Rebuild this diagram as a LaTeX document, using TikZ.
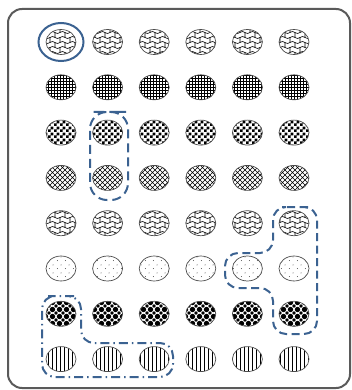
\documentclass[tikz,border=0pt]{standalone}
\usepackage{tikz}
\usetikzlibrary{shapes.geometric, patterns, calc}
\definecolor{hlblue}{RGB}{59, 98, 145}
\definecolor{framegray}{RGB}{90, 90, 90}

% fill patterns of the tiles
\pgfdeclarepatternformonly{wavebricks}{\pgfqpoint{-1pt}{-1pt}}{\pgfqpoint{11pt}{11pt}}{\pgfqpoint{10pt}{10pt}}{
  \pgfsetlinewidth{0.6pt}
  \pgfpathmoveto{\pgfqpoint{0pt}{2.5pt}}
  \pgfpathcurveto{\pgfqpoint{3.3pt}{6pt}}{\pgfqpoint{6.7pt}{-1pt}}{\pgfqpoint{10pt}{2.5pt}}
  \pgfpathmoveto{\pgfqpoint{0pt}{7.5pt}}
  \pgfpathcurveto{\pgfqpoint{3.3pt}{11pt}}{\pgfqpoint{6.7pt}{4pt}}{\pgfqpoint{10pt}{7.5pt}}
  \pgfpathmoveto{\pgfqpoint{5pt}{2.5pt}}\pgfpathlineto{\pgfqpoint{5pt}{7.5pt}}
  \pgfpathmoveto{\pgfqpoint{0pt}{7.5pt}}\pgfpathlineto{\pgfqpoint{0pt}{10pt}}
  \pgfpathmoveto{\pgfqpoint{0pt}{0pt}}\pgfpathlineto{\pgfqpoint{0pt}{2.5pt}}
  \pgfusepath{stroke}}
\pgfdeclarepatternformonly{finegrid}{\pgfqpoint{-1pt}{-1pt}}{\pgfqpoint{3pt}{3pt}}{\pgfqpoint{3pt}{3pt}}{
  \pgfsetlinewidth{0.7pt}
  \pgfpathmoveto{\pgfqpoint{0pt}{0pt}}\pgfpathlineto{\pgfqpoint{0pt}{3.1pt}}
  \pgfpathmoveto{\pgfqpoint{0pt}{0pt}}\pgfpathlineto{\pgfqpoint{3.1pt}{0pt}}
  \pgfusepath{stroke}}
\pgfdeclarepatternformonly{bigchecker}{\pgfqpoint{0pt}{0pt}}{\pgfqpoint{6pt}{6pt}}{\pgfqpoint{6pt}{6pt}}{
  \pgfpathrectangle{\pgfqpoint{0pt}{0pt}}{\pgfqpoint{3pt}{3pt}}
  \pgfpathrectangle{\pgfqpoint{3pt}{3pt}}{\pgfqpoint{3pt}{3pt}}
  \pgfusepath{fill}}
\pgfdeclarepatternformonly{widehatch}{\pgfqpoint{-1pt}{-1pt}}{\pgfqpoint{6pt}{6pt}}{\pgfqpoint{5pt}{5pt}}{
  \pgfsetlinewidth{0.5pt}
  \pgfpathmoveto{\pgfqpoint{0pt}{0pt}}\pgfpathlineto{\pgfqpoint{5.1pt}{5.1pt}}
  \pgfpathmoveto{\pgfqpoint{0pt}{5pt}}\pgfpathlineto{\pgfqpoint{5.1pt}{-0.1pt}}
  \pgfusepath{stroke}}
\pgfdeclarepatternformonly{sparsedots}{\pgfqpoint{0pt}{0pt}}{\pgfqpoint{8pt}{8pt}}{\pgfqpoint{8pt}{8pt}}{
  \pgfpathcircle{\pgfqpoint{1.5pt}{1.5pt}}{0.5pt}
  \pgfpathcircle{\pgfqpoint{5.5pt}{5.5pt}}{0.5pt}
  \pgfusepath{fill}}
\pgfdeclarepatternformonly{blobdots}{\pgfqpoint{-2pt}{-2pt}}{\pgfqpoint{7pt}{7pt}}{\pgfqpoint{7pt}{7pt}}{
  \pgfpathcircle{\pgfqpoint{3.5pt}{3.5pt}}{2.7pt}
  \pgfpathmoveto{\pgfqpoint{-1.8pt}{0pt}}\pgfpathlineto{\pgfqpoint{0pt}{1.8pt}}
  \pgfpathlineto{\pgfqpoint{1.8pt}{0pt}}\pgfpathlineto{\pgfqpoint{0pt}{-1.8pt}}\pgfpathclose
  \pgfusepath{fill}}
\pgfdeclarepatternformonly{vlines}{\pgfqpoint{-1pt}{0pt}}{\pgfqpoint{3pt}{4pt}}{\pgfqpoint{4pt}{4pt}}{
  \pgfsetlinewidth{0.8pt}
  \pgfpathmoveto{\pgfqpoint{0pt}{0pt}}\pgfpathlineto{\pgfqpoint{0pt}{4.1pt}}
  \pgfusepath{stroke}}

\begin{document}
\begin{tikzpicture}[x=1pt, y=-1pt,
    blob/.style={ellipse, draw=black!70, line width=0.7pt, inner sep=0pt,
      minimum width=30pt, minimum height=25pt},
    hlline/.style={draw=hlblue, line width=2pt},
    frame/.style={draw=framegray, line width=2pt, rounded corners=14pt}]
  \useasboundingbox (0,0) rectangle (351,390);
  \draw[frame] (8,9) rectangle (350,388);

  % 8 rows of 6 patterned ellipses
  \foreach \pat [count=\r] in {wavebricks, finegrid, bigchecker, widehatch,
      wavebricks, sparsedots, blobdots, vlines} {
    \foreach \c in {1,...,6}
      \node[blob, pattern=\pat] (e\r-\c) at ({61+46.6*(\c-1)}, {42+45.3*(\r-1)}) {};
  }

  % highlighted groups
  \node[hlline, ellipse, minimum width=45pt, minimum height=38pt] (sel) at (e1-1) {};
  \draw[hlline, dash pattern=on 9pt off 5pt, rounded corners=17pt]
    (109,112) -- (128,112) -- (128,200) -- (90,200) -- (90,112) -- cycle;
  \draw[hlline, dash pattern=on 8pt off 4.5pt, rounded corners=13pt]
    (295,207) -- (317,207) -- (317,334) -- (273,334) -- (273,288)
    -- (225,288) -- (225,253) -- (273,253) -- (273,207) -- cycle;
  \draw[hlline, dash pattern=on 9pt off 4pt on 1.5pt off 4pt, rounded corners=13pt]
    (61,296) -- (81,296) -- (81,343) -- (173,343) -- (173,377)
    -- (42,377) -- (42,296) -- cycle;
\end{tikzpicture}
\end{document}
